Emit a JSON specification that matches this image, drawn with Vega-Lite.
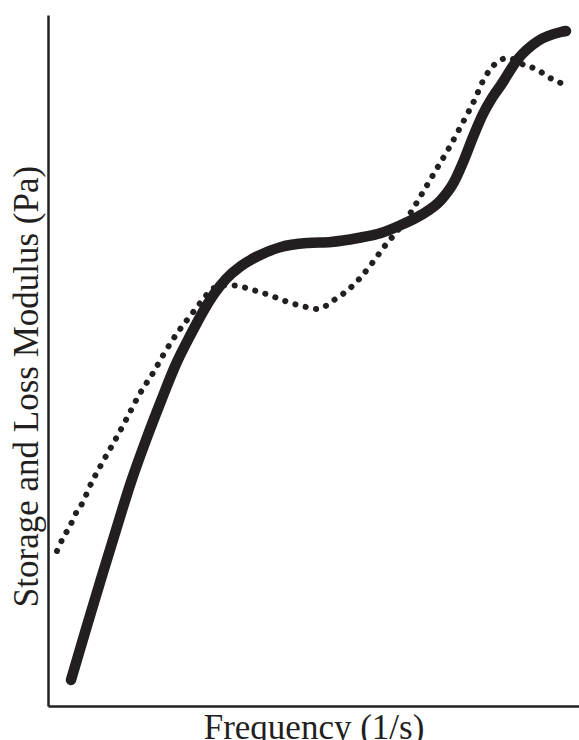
{
  "$schema": "https://vega.github.io/schema/vega-lite/v6.json",
  "width": 531,
  "height": 691,
  "autosize": "none",
  "padding": {"left": 48, "top": 15, "right": 0, "bottom": 34},
  "background": "white",
  "config": {
    "view": {"stroke": null},
    "axis": {
      "domainColor": "#231f20",
      "domainWidth": 2.5,
      "ticks": false,
      "labels": false,
      "grid": false,
      "titleFont": "Liberation Serif",
      "titleFontSize": 35,
      "titleFontWeight": "normal",
      "titleColor": "#231f20"
    }
  },
  "datasets": {
    "storage": [
      {"x": 23, "y": 26}, {"x": 38, "y": 77}, {"x": 53, "y": 127}, {"x": 68, "y": 176},
      {"x": 83, "y": 224}, {"x": 98, "y": 266}, {"x": 113, "y": 305}, {"x": 128, "y": 342},
      {"x": 143, "y": 372}, {"x": 156, "y": 396}, {"x": 166, "y": 412}, {"x": 178, "y": 427},
      {"x": 193, "y": 440}, {"x": 208, "y": 449}, {"x": 233, "y": 459}, {"x": 260, "y": 463},
      {"x": 283, "y": 464}, {"x": 310, "y": 468}, {"x": 333, "y": 473}, {"x": 353, "y": 481},
      {"x": 373, "y": 491}, {"x": 393, "y": 506}, {"x": 406, "y": 524}, {"x": 416, "y": 546},
      {"x": 425, "y": 569}, {"x": 435, "y": 592}, {"x": 444, "y": 608}, {"x": 453, "y": 621},
      {"x": 470, "y": 647}, {"x": 490, "y": 665}, {"x": 513, "y": 674}, {"x": 518, "y": 675}
    ],
    "loss": [
      {"x": 9, "y": 155}, {"x": 15, "y": 168}, {"x": 22, "y": 180}, {"x": 28, "y": 193},
      {"x": 35, "y": 204}, {"x": 41, "y": 218}, {"x": 53, "y": 241}, {"x": 66, "y": 264},
      {"x": 79, "y": 288}, {"x": 91, "y": 311}, {"x": 105, "y": 333}, {"x": 117, "y": 354},
      {"x": 130, "y": 374}, {"x": 143, "y": 391}, {"x": 153, "y": 404}, {"x": 166, "y": 418},
      {"x": 180, "y": 421}, {"x": 190, "y": 420}, {"x": 205, "y": 416}, {"x": 221, "y": 411},
      {"x": 240, "y": 404}, {"x": 258, "y": 399}, {"x": 270, "y": 397}, {"x": 286, "y": 406},
      {"x": 300, "y": 416}, {"x": 313, "y": 429}, {"x": 325, "y": 444}, {"x": 336, "y": 459},
      {"x": 350, "y": 476}, {"x": 363, "y": 494}, {"x": 375, "y": 514}, {"x": 388, "y": 536},
      {"x": 401, "y": 558}, {"x": 414, "y": 582}, {"x": 426, "y": 605}, {"x": 436, "y": 627},
      {"x": 446, "y": 641}, {"x": 460, "y": 648}, {"x": 476, "y": 641}, {"x": 490, "y": 636},
      {"x": 500, "y": 629}, {"x": 511, "y": 624}, {"x": 514, "y": 622}
    ]
  },
  "layer": [
    {
      "data": {"name": "loss"},
      "mark": {"type": "line", "interpolate": "monotone", "color": "#231f20", "strokeWidth": 6, "strokeDash": [0.1, 10.5], "strokeCap": "round"},
      "encoding": {
        "x": {"field": "x", "type": "quantitative", "scale": {"domain": [0, 531], "nice": false, "zero": false},
          "axis": {"title": "Frequency (1/s)", "titleBaseline": "alphabetic", "titleY": 32}},
        "y": {"field": "y", "type": "quantitative", "scale": {"domain": [0, 691], "nice": false, "zero": false},
          "axis": {"title": "Storage and Loss Modulus (Pa)", "titleBaseline": "alphabetic", "titleX": -11, "titleY": 371, "titleAngle": -90}}
      }
    },
    {
      "data": {"name": "storage"},
      "mark": {"type": "line", "interpolate": "monotone", "color": "#231f20", "strokeWidth": 10.5, "strokeCap": "round"},
      "encoding": {
        "x": {"field": "x", "type": "quantitative"},
        "y": {"field": "y", "type": "quantitative"}
      }
    }
  ]
}
